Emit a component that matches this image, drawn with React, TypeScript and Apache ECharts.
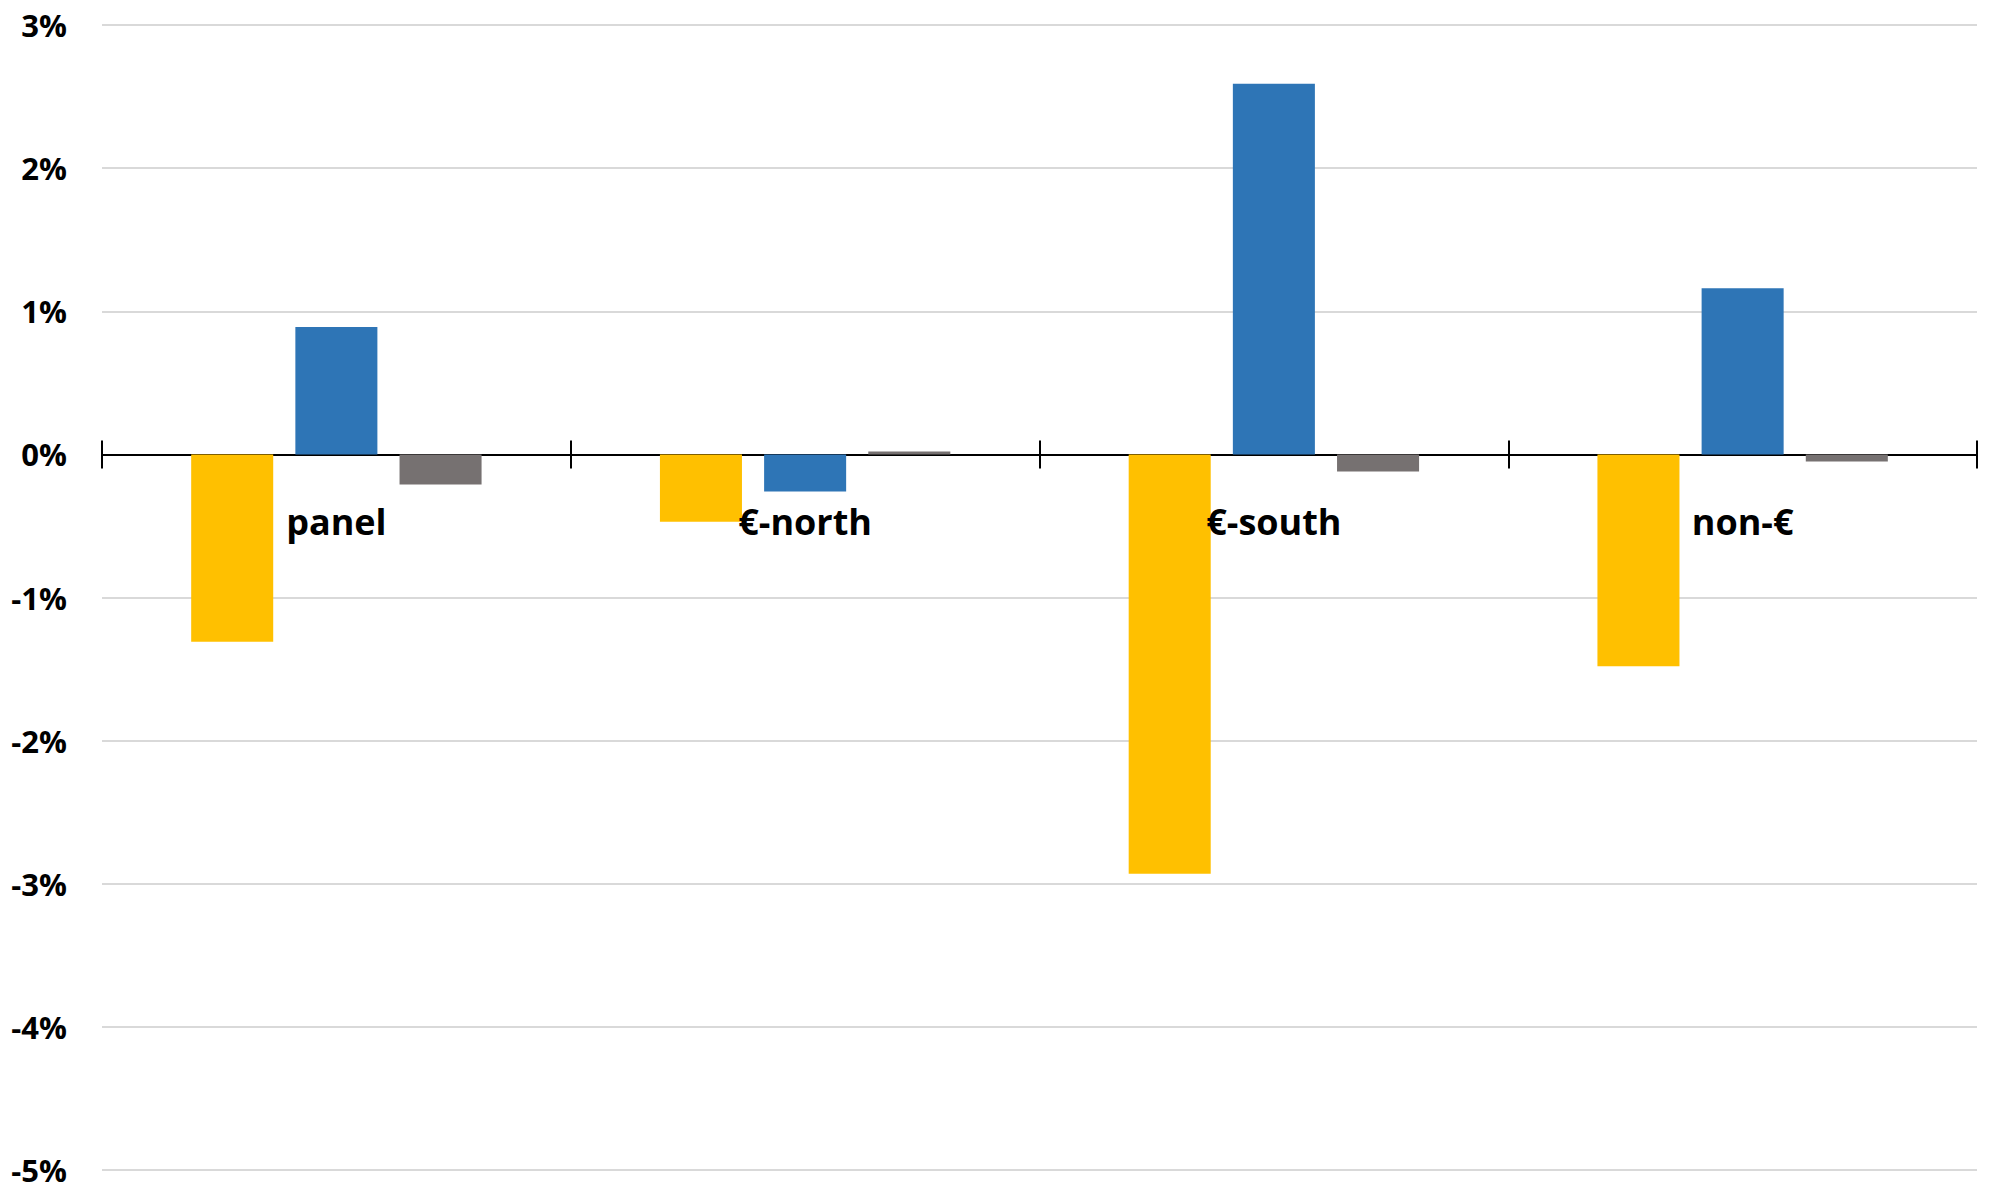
import React, { useEffect, useRef } from "react";
import * as echarts from "echarts";

const categories = ["panel", "€-north", "€-south", "non-€"];
const seriesYellow = [-1.31, -0.47, -2.93, -1.48];
const seriesBlue = [0.89, -0.26, 2.59, 1.16];
const seriesGray = [-0.21, 0.02, -0.12, -0.05];
const yTicks = { min: -5, max: 3, interval: 1 };

export default function App() {
  const ref = useRef<HTMLDivElement>(null);
  useEffect(() => {
    document.body.style.margin = "0";
    document.body.style.overflow = "hidden";
    const chart = echarts.init(ref.current!, null, { renderer: "svg" });
    const font = "'Open Sans', sans-serif";
    const barCommon = {
      type: "bar",
      barWidth: "17.5%",
      barGap: "27%",
      xAxisIndex: 0,
      yAxisIndex: 0,
    };
    chart.setOption({
      animation: false,
      backgroundColor: "#ffffff",
      grid: {
        left: 102,
        right: 18,
        top: 25,
        bottom: 16,
        containLabel: false,
        outerBoundsMode: "none",
      },
      xAxis: [
        {
          type: "category",
          data: categories,
          position: "bottom",
          axisLine: { show: true, onZero: true, onZeroAxisIndex: 0, lineStyle: { color: "#000", width: 2 } },
          axisTick: { show: true, inside: false, length: 14, lineStyle: { color: "#000", width: 2 } },
          axisLabel: { show: false },
          splitLine: { show: false },
        },
        {
          type: "category",
          data: categories,
          position: "top",
          axisLine: { show: true, onZero: true, onZeroAxisIndex: 0, lineStyle: { color: "#000", width: 2 } },
          axisTick: { show: true, inside: false, length: 14, lineStyle: { color: "#000", width: 2 } },
          axisLabel: { show: false },
          splitLine: { show: false },
        },
      ],
      yAxis: {
        type: "value",
        min: yTicks.min,
        max: yTicks.max,
        interval: yTicks.interval,
        axisLine: { show: false },
        axisTick: { show: false },
        axisLabel: {
          formatter: "{value}%",
          margin: 35,
          color: "#000",
          fontFamily: font,
          fontWeight: "bold",
          fontSize: 31,
        },
        splitLine: { show: true, lineStyle: { color: "#d9d9d9", width: 2 } },
      },
      series: [
        { ...barCommon, name: "yellow", data: seriesYellow, itemStyle: { color: "#FFC000" } },
        { ...barCommon, name: "blue", data: seriesBlue, itemStyle: { color: "#2E75B6" } },
        { ...barCommon, name: "gray", data: seriesGray, itemStyle: { color: "#767171" } },
        {
          type: "scatter",
          name: "categoryLabels",
          xAxisIndex: 0,
          yAxisIndex: 0,
          symbolSize: 0,
          silent: true,
          z: 10,
          itemStyle: { opacity: 1 },
          data: categories.map((c) => [c, 0]),
          label: {
            show: true,
            position: "bottom",
            distance: 49,
            opacity: 1,
            formatter: (p: any) => categories[p.dataIndex],
            color: "#000000",
            textBorderWidth: 0,
            fontFamily: font,
            fontWeight: "bold",
            fontSize: 36,
          },
        },
      ],
    });
    return () => chart.dispose();
  }, []);
  return <div ref={ref} style={{ width: 1995, height: 1186 }} />;
}
